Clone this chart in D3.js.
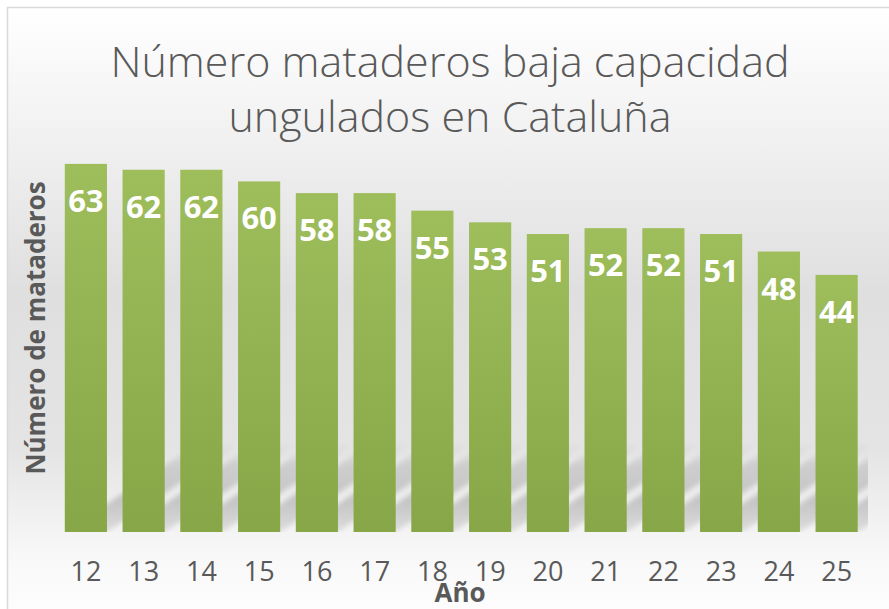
<!DOCTYPE html>
<html lang="es">
<head>
  <meta charset="UTF-8">
  <title>Número mataderos baja capacidad ungulados en Cataluña</title>
  <script src="https://d3js.org/d3.v7.min.js"></script>
  <style>
    body {
      margin: 0;
      background: #ffffff;
      font-family: "Open Sans", "Noto Sans", sans-serif;
    }
    svg { display: block; }
  </style>
</head>
<body>
  <svg id="chart" width="889" height="609"></svg>

  <script>
    const years = ["12", "13", "14", "15", "16", "17", "18", "19", "20", "21", "22", "23", "24", "25"];
    const mataderos = [63, 62, 62, 60, 58, 58, 55, 53, 51, 52, 52, 51, 48, 44];
    const titleLines = ["Número mataderos baja capacidad", "ungulados en Cataluña"];
    const yTitle = "Número de mataderos";
    const xTitle = "Año";

    const width = 889;
    const height = 609;
    const textColor = "#595959";

    const svg = d3.select("#chart");
    const defs = svg.append("defs");

    // chart background
    const bg = defs.append("linearGradient")
      .attr("id", "bg-grad")
      .attr("x1", 0).attr("y1", 0).attr("x2", 0).attr("y2", 1);
    bg.append("stop").attr("offset", "0%").attr("stop-color", "#ffffff");
    bg.append("stop").attr("offset", "22%").attr("stop-color", "#f0f0f0");
    bg.append("stop").attr("offset", "45%").attr("stop-color", "#dfdfdf");
    bg.append("stop").attr("offset", "70%").attr("stop-color", "#e4e4e4");
    bg.append("stop").attr("offset", "87%").attr("stop-color", "#f8f8f8");
    bg.append("stop").attr("offset", "100%").attr("stop-color", "#ffffff");

    // bar fill
    const barGrad = defs.append("linearGradient")
      .attr("id", "bar-grad")
      .attr("x1", 0).attr("y1", 0).attr("x2", 0).attr("y2", 1);
    barGrad.append("stop").attr("offset", "0%").attr("stop-color", "#9ebd5b");
    barGrad.append("stop").attr("offset", "100%").attr("stop-color", "#87a647");

    // perspective shadow fade (bottom -> top)
    const shGrad = defs.append("linearGradient")
      .attr("id", "shadow-grad")
      .attr("x1", 0).attr("y1", 1).attr("x2", 0).attr("y2", 0);
    shGrad.append("stop").attr("offset", "0%").attr("stop-color", "#9a9a9a").attr("stop-opacity", 0.25);
    shGrad.append("stop").attr("offset", "35%").attr("stop-color", "#9a9a9a").attr("stop-opacity", 0.5);
    shGrad.append("stop").attr("offset", "75%").attr("stop-color", "#a8a8a8").attr("stop-opacity", 0.4);
    shGrad.append("stop").attr("offset", "100%").attr("stop-color", "#bbbbbb").attr("stop-opacity", 0.0);

    defs.append("filter").attr("id", "blur")
      .attr("x", "-20%").attr("y", "-20%").attr("width", "140%").attr("height", "140%")
      .append("feGaussianBlur").attr("stdDeviation", 2.5);

    defs.append("clipPath").attr("id", "plot-clip")
      .append("rect").attr("x", 50).attr("y", 100).attr("width", 818).attr("height", 432);

    svg.append("rect")
      .attr("x", 7.5).attr("y", 7.5)
      .attr("width", width + 20).attr("height", height + 20)
      .attr("fill", "url(#bg-grad)")
      .attr("stroke", "#d9d9d9")
      .attr("stroke-width", 1.5);

    const x = d3.scaleBand()
      .domain(years)
      .range([57, 865.5])
      .paddingInner(0.27)
      .paddingOuter(0.135);

    const y = d3.scaleLinear()
      .domain([0, 70])
      .range([532, 123]);

    const data = years.map((yr, i) => ({ year: yr, value: mataderos[i] }));

    // perspective shadows behind the bars
    const shadowH = 90;
    const skew = 135;
    svg.append("g")
      .attr("clip-path", "url(#plot-clip)")
      .selectAll("polygon")
      .data(data)
      .join("polygon")
      .attr("points", (d) => {
        const x0 = x(d.year);
        const x1 = x0 + x.bandwidth();
        const b = y(0);
        return [[x0, b], [x1, b], [x1 + skew, b - shadowH], [x0 + skew, b - shadowH]]
          .map((p) => p.join(",")).join(" ");
      })
      .attr("fill", "url(#shadow-grad)")
      .attr("filter", "url(#blur)");

    svg.append("g")
      .selectAll("rect")
      .data(data)
      .join("rect")
      .attr("x", (d) => x(d.year))
      .attr("y", (d) => y(d.value))
      .attr("width", x.bandwidth())
      .attr("height", (d) => y(0) - y(d.value))
      .attr("fill", "url(#bar-grad)");

    // value labels
    svg.append("g")
      .selectAll("text")
      .data(data)
      .join("text")
      .attr("x", (d) => x(d.year) + x.bandwidth() / 2)
      .attr("y", (d) => y(d.value) + 48)
      .attr("text-anchor", "middle")
      .attr("fill", "#ffffff")
      .style("font-size", "31px")
      .style("font-weight", "700")
      .text((d) => d.value);

    // x axis (labels only)
    const xAxis = svg.append("g")
      .attr("transform", `translate(0, ${y(0)})`)
      .call(d3.axisBottom(x).tickSize(0).tickPadding(30));
    xAxis.select(".domain").remove();
    xAxis.selectAll("text")
      .attr("fill", textColor)
      .style("font-size", "27px")
      .style("font-family", "'Open Sans', sans-serif");

    // titles
    svg.append("g")
      .selectAll("text")
      .data(titleLines)
      .join("text")
      .attr("x", 450)
      .attr("y", (d, i) => 77 + i * 55)
      .attr("text-anchor", "middle")
      .attr("fill", textColor)
      .style("font-size", "43px")
      .style("font-weight", "300")
      .text((d) => d);

    svg.append("text")
      .attr("transform", "translate(45, 328) rotate(-90)")
      .attr("text-anchor", "middle")
      .attr("fill", textColor)
      .style("font-size", "26px")
      .style("font-weight", "700")
      .text(yTitle);

    svg.append("text")
      .attr("x", 460)
      .attr("y", 602)
      .attr("text-anchor", "middle")
      .attr("fill", textColor)
      .style("font-size", "26px")
      .style("font-weight", "700")
      .text(xTitle);
  </script>
</body>
</html>
